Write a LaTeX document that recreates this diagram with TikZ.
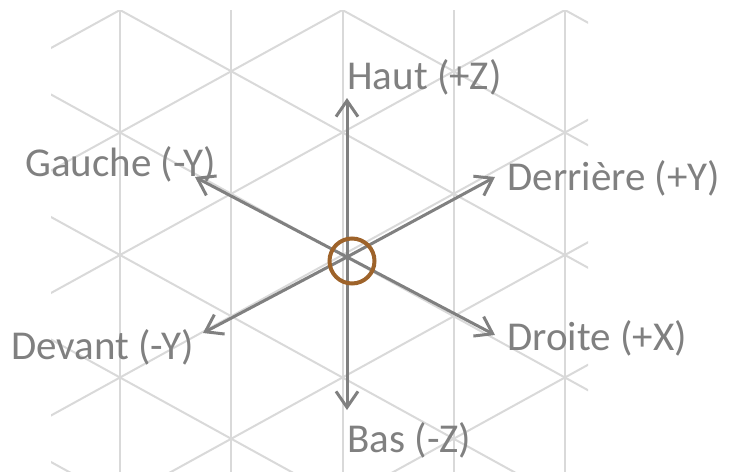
\documentclass[tikz,border=0pt]{standalone}
\usepackage{fontspec}
\setmainfont{Carlito}
\usepackage{xcolor}
\usepackage{tikz}
\usetikzlibrary{arrows.meta}

\definecolor{gridgrey}{RGB}{217,217,217}
\definecolor{axisgrey}{RGB}{128,128,128}
\definecolor{originbrown}{RGB}{158,99,42}

\begin{document}
\begin{tikzpicture}[
    x=0.5pt, y=-0.5pt,
    gridline/.style={draw=gridgrey, line width=1pt},
    axis/.style={-{Straight Barb[length=8pt,width=11pt]}, draw=axisgrey, line width=1.5pt},
    axislabel/.style={anchor=base west, inner sep=0pt, text=axisgrey, font=\fontsize{20.5}{24}\selectfont},
    origin/.style={draw=originbrown, circle, line width=2pt, minimum size=22.5pt, inner sep=0pt}
]
\useasboundingbox (0,0) rectangle (730,472);

% isometric grid
\begin{scope}
\clip (51,10) rectangle (588,472);
\foreach \k in {0,...,4}
    \draw[gridline] ({120+111.25*\k},10) -- ({120+111.25*\k},472);
\foreach \m in {-4,...,7} {
    \draw[gridline] (120,{10+122.5*\m}) ++(-600,-330.4) -- ++(1200,660.8);
    \draw[gridline] (120,{10+122.5*\m}) ++(-600,330.4) -- ++(1200,-660.8);
}
\end{scope}

\coordinate (centre) at (347,257);
\coordinate (up) at (347,98);
\coordinate (down) at (347,410);
\coordinate (left) at (195,177);
\coordinate (back) at (495,177);
\coordinate (front) at (203,333);
\coordinate (right) at (495,335);

\draw[axis] (centre) -- (up);
\draw[axis] (centre) -- (down);
\draw[axis] (centre) -- (left);
\draw[axis] (centre) -- (back);
\draw[axis] (centre) -- (front);
\draw[axis] (centre) -- (right);

\node[origin] (origin) at (352,261) {};

\node[axislabel] (haut) at (347,89) {Haut (+Z)};
\node[axislabel] (gauche) at (25,176) {Gauche (-Y)};
\node[axislabel] (derriere) at (507,190) {Derrière (+Y)};
\node[axislabel] (devant) at (11,359) {Devant (-Y)};
\node[axislabel] (droite) at (507,350) {Droite (+X)};
\node[axislabel] (bas) at (347,452) {Bas (-Z)};
\end{tikzpicture}
\end{document}
